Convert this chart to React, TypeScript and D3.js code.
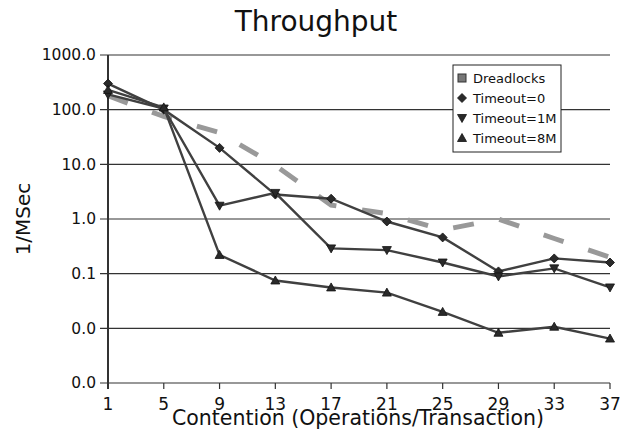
import * as d3 from 'd3';

const contention = [1, 5, 9, 13, 17, 21, 25, 29, 33, 37];
const dreadlocks = [180, 75, 38, 9.5, 1.8, 1.25, 0.63, 1.0, 0.44, 0.2];
const timeout0 = [300, 100, 20, 2.8, 2.35, 0.9, 0.46, 0.11, 0.19, 0.16];
const timeout1M = [190, 105, 1.75, 3.0, 0.29, 0.27, 0.16, 0.089, 0.125, 0.056];
const timeout8M = [230, 110, 0.22, 0.075, 0.056, 0.045, 0.02, 0.0083, 0.0107, 0.0065];
const yTicks = [0.001, 0.01, 0.1, 1, 10, 100, 1000];
const legendNames = ['Dreadlocks', 'Timeout=0', 'Timeout=1M', 'Timeout=8M'];

const W = 626;
const H = 429;
const font = 'DejaVu Sans, sans-serif';

const x = d3.scaleLinear().domain([1, 37]).range([108, 610]);
const y = d3.scaleLog().domain([0.001, 1000]).range([383, 55]);

const line = d3
  .line<number>()
  .x((_, i) => x(contention[i]))
  .y((d) => y(d));

// log ticks print with one decimal, small ones collapse to 0.0
const fmt = (v: number) => (v < 0.1 ? '0.0' : v.toFixed(1));

function Marker({ kind, cx, cy }: { kind: string; cx: number; cy: number }) {
  const s = 4.5;
  if (kind === 'square')
    return <rect x={cx - 4} y={cy - 4} width={8} height={8} fill="#777" stroke="#333" strokeWidth={1} />;
  if (kind === 'diamond')
    return (
      <path
        d={`M${cx},${cy - s}L${cx + s},${cy}L${cx},${cy + s}L${cx - s},${cy}Z`}
        fill="#2a2a2a"
        stroke="#111"
        strokeWidth={0.8}
      />
    );
  if (kind === 'down')
    return (
      <path
        d={`M${cx - s},${cy - s + 1}L${cx + s},${cy - s + 1}L${cx},${cy + s}Z`}
        fill="#2a2a2a"
        stroke="#111"
        strokeWidth={0.8}
      />
    );
  return (
    <path
      d={`M${cx - s},${cy + s - 1}L${cx + s},${cy + s - 1}L${cx},${cy - s}Z`}
      fill="#2a2a2a"
      stroke="#111"
      strokeWidth={0.8}
    />
  );
}

export default function App() {
  const series = [
    { values: timeout0, kind: 'diamond' },
    { values: timeout1M, kind: 'down' },
    { values: timeout8M, kind: 'up' },
  ];
  const kinds = ['square', 'diamond', 'down', 'up'];

  return (
    <svg
      width={W}
      height={H}
      style={{ position: 'absolute', left: 0, top: 0, background: '#fff' }}
      fontFamily={font}
    >
      <rect width={W} height={H} fill="#fff" />

      {/* grid + y ticks */}
      {yTicks.map((t) => (
        <g key={t}>
          <line x1={x(1) - 8} x2={x(37)} y1={y(t)} y2={y(t)} stroke="#333" strokeWidth={1.2} />
          <text x={x(1) - 12} y={y(t)} dy="0.35em" textAnchor="end" fontSize={15.5} fill="#111">
            {fmt(t)}
          </text>
        </g>
      ))}

      {/* x ticks */}
      {contention.map((c) => (
        <g key={c}>
          <line x1={x(c)} x2={x(c)} y1={y(0.001)} y2={y(0.001) + 6} stroke="#333" strokeWidth={1.2} />
          <text x={x(c)} y={410} textAnchor="middle" fontSize={17} fill="#111">
            {c}
          </text>
        </g>
      ))}
      <line x1={x(1)} x2={x(1)} y1={y(1000)} y2={y(0.001) + 6} stroke="#333" strokeWidth={2} />

      {/* series */}
      <path
        d={line(dreadlocks) ?? ''}
        fill="none"
        stroke="#999"
        strokeWidth={5}
        strokeDasharray="21,26"
      />
      {series.map((s) => (
        <g key={s.kind}>
          <path d={line(s.values) ?? ''} fill="none" stroke="#404040" strokeWidth={2.4} />
          {s.values.map((v, i) => (
            <Marker key={i} kind={s.kind} cx={x(contention[i])} cy={y(v)} />
          ))}
        </g>
      ))}

      {/* legend */}
      <g transform="translate(453,65)">
        <rect width={108} height={87} fill="#fff" stroke="#222" strokeWidth={1} />
        {legendNames.map((n, i) => (
          <g key={n} transform={`translate(0,${13 + i * 20})`}>
            <Marker kind={kinds[i]} cx={9} cy={0} />
            <text x={20} y={0} dy="0.35em" fontSize={13} fill="#111">
              {n}
            </text>
          </g>
        ))}
      </g>

      {/* titles */}
      <text x={316} y={31} textAnchor="middle" fontSize={28} fill="#111">
        Throughput
      </text>
      <text x={358} y={425} textAnchor="middle" fontSize={20.5} fill="#111">
        Contention (Operations/Transaction)
      </text>
      <text
        transform={`translate(30,${y(1)}) rotate(-90)`}
        textAnchor="middle"
        fontSize={20}
        fill="#111"
      >
        1/MSec
      </text>
    </svg>
  );
}
